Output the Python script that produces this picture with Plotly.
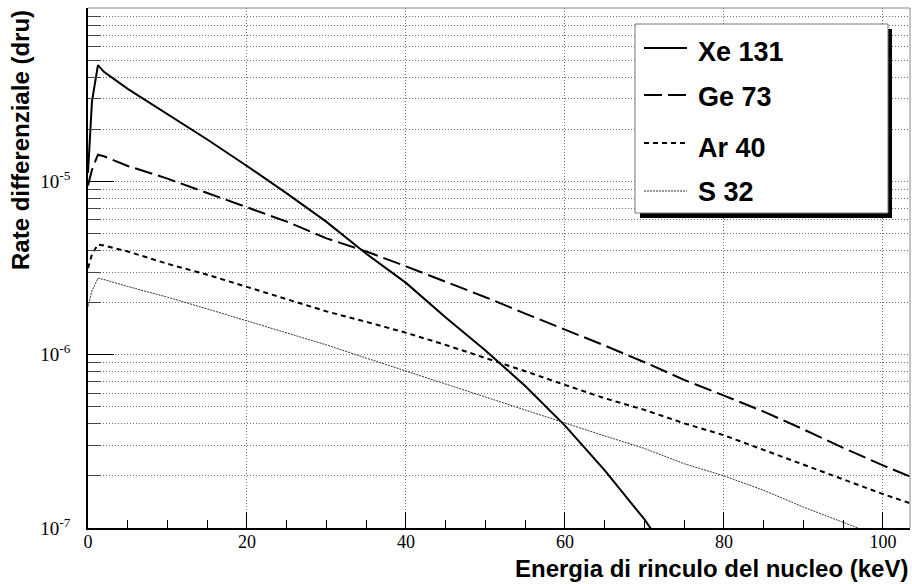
import plotly.graph_objects as go

# Energia di rinculo (keV) e rate differenziale (dru) per i quattro bersagli
energia = [0, 0.5, 1.25, 2, 5, 10, 15, 20, 25, 30, 35, 40, 45, 50, 55, 60,
           65, 70, 75, 80, 85, 90, 95, 100, 103.4]

rate_xe131 = [1.12e-5, 2.9e-5, 4.7e-5, 4.3e-5, 3.43e-5, 2.45e-5, 1.75e-5,
              1.23e-5, 8.55e-6, 5.85e-6, 3.83e-6, 2.60e-6, 1.64e-6, 1.06e-6,
              6.6e-7, 3.9e-7, 2.15e-7, 1.12e-7, 5.2e-8]
rate_ge73 = [9.5e-6, 1.17e-5, 1.43e-5, 1.40e-5, 1.23e-5, 1.04e-5, 8.59e-6,
             7.10e-6, 5.87e-6, 4.70e-6, 3.95e-6, 3.24e-6, 2.65e-6, 2.15e-6,
             1.73e-6, 1.40e-6, 1.13e-6, 9.06e-7, 7.16e-7, 5.81e-7, 4.70e-7,
             3.71e-7, 2.90e-7, 2.30e-7, 1.98e-7]
rate_ar40 = [3.16e-6, 3.8e-6, 4.33e-6, 4.27e-6, 3.95e-6, 3.35e-6, 2.90e-6,
             2.47e-6, 2.10e-6, 1.78e-6, 1.55e-6, 1.34e-6, 1.14e-6, 9.6e-7,
             8.04e-7, 6.7e-7, 5.61e-7, 4.81e-7, 4.02e-7, 3.43e-7, 2.82e-7,
             2.30e-7, 1.89e-7, 1.57e-7, 1.39e-7]
rate_s32 = [1.9e-6, 2.34e-6, 2.77e-6, 2.72e-6, 2.48e-6, 2.15e-6, 1.84e-6,
            1.57e-6, 1.35e-6, 1.14e-6, 9.57e-7, 8.05e-7, 6.76e-7, 5.69e-7,
            4.79e-7, 4.03e-7, 3.40e-7, 2.88e-7, 2.35e-7, 2.0e-7, 1.65e-7,
            1.32e-7, 1.08e-7, 8.8e-8]

nomi = ["Xe 131", "Ge 73", "Ar 40", "S 32"]
serie = [rate_xe131, rate_ge73, rate_ar40, rate_s32]
stili = [
    dict(color="black", width=2, dash="solid"),
    dict(color="black", width=2, dash="18px,6px"),
    dict(color="black", width=2, dash="5px,4px"),
    dict(color="#333333", width=1, dash="2px,1px"),
]

x_ticks = [0, 20, 40, 60, 80, 100]
y_ticks = [1e-7, 1e-6, 1e-5]
y_ticktext = ["10<sup>-7</sup>", "10<sup>-6</sup>", "10<sup>-5</sup>"]
y_minor = [k * 10.0 ** e for e in (-7, -6, -5) for k in range(2, 10)]

W, H = 912, 584
ML, MR, MT, MB = 88, 2, 8, 56
PW, PH = W - ML - MR, H - MT - MB


def fx(px):
    return (px - ML) / PW


def fy(py):
    return (H - MB - py) / PH


fig = go.Figure()
for nome, valori, stile in zip(nomi, serie, stili):
    fig.add_trace(go.Scatter(
        x=energia[:len(valori)], y=valori, mode="lines", name=nome,
        line=stile, showlegend=False,
    ))

grid = dict(gridcolor="#6e6e6e", griddash="1px,2px", gridwidth=1)

fig.update_layout(
    width=W, height=H,
    margin=dict(l=ML, r=MR, t=MT, b=MB, pad=0),
    paper_bgcolor="white", plot_bgcolor="white",
    xaxis=dict(
        range=[0, 103.4], showline=True, linecolor="black", linewidth=1.5,
        ticks="inside", ticklen=16, tickwidth=1, tickcolor="black",
        tickmode="array", tickvals=x_ticks, showgrid=True, zeroline=False,
        ticklabelstandoff=-3,
        tickfont=dict(family="Liberation Serif", size=18, color="black"),
        minor=dict(dtick=5, tick0=0, ticks="inside", ticklen=8,
                   tickcolor="black", tickwidth=1, showgrid=False),
        **grid,
    ),
    yaxis=dict(
        type="log", range=[-7, -3.998], showline=True, linecolor="black",
        linewidth=1.5, ticks="inside", ticklen=26, tickwidth=1,
        tickcolor="black", tickmode="array", tickvals=y_ticks,
        ticktext=y_ticktext, showgrid=True, zeroline=False,
        ticklabelstandoff=12,
        tickfont=dict(family="Liberation Serif", size=19, color="black"),
        minor=dict(tickmode="array", tickvals=y_minor, ticks="inside",
                   ticklen=13, tickcolor="#444444", tickwidth=1,
                   showgrid=True, **grid),
        **grid,
    ),
)

shapes = [
    # cornice superiore e destra
    dict(type="line", xref="paper", yref="paper", x0=0, x1=1, y0=1, y1=1,
         line=dict(color="#888888", width=1)),
    dict(type="line", xref="paper", yref="paper", x0=1, x1=1, y0=0, y1=1,
         line=dict(color="#888888", width=1)),
    # riquadro della legenda con ombra
    dict(type="rect", xref="paper", yref="paper",
         x0=fx(640), x1=fx(892), y0=fy(218), y1=fy(29),
         fillcolor="black", line=dict(width=0)),
    dict(type="rect", xref="paper", yref="paper",
         x0=fx(635), x1=fx(888), y0=fy(213), y1=fy(24),
         fillcolor="white", line=dict(color="#777777", width=1)),
]

annotations = []
leg_line_y = [48, 95, 143, 191]
leg_text_y = [52, 97, 148, 192]
for nome, stile, yl, yt in zip(nomi, stili, leg_line_y, leg_text_y):
    shapes.append(dict(type="line", xref="paper", yref="paper",
                       x0=fx(644), x1=fx(687), y0=fy(yl), y1=fy(yl),
                       line=stile))
    annotations.append(dict(
        text=f"<b>{nome}</b>", xref="paper", yref="paper",
        x=fx(696), y=fy(yt), xanchor="left", yanchor="middle",
        showarrow=False,
        font=dict(family="Liberation Sans", size=27, color="black"),
    ))

annotations.append(dict(
    text="<b>Energia di rinculo del nucleo (keV)</b>", xref="paper",
    yref="paper", x=fx(910), y=fy(568), xanchor="right", yanchor="middle",
    showarrow=False,
    font=dict(family="Liberation Sans", size=24, color="black"),
))
annotations.append(dict(
    text="<b>Rate differenziale (dru)</b>", xref="paper", yref="paper",
    x=fx(20), y=fy(8), xanchor="center", yanchor="top", textangle=-90,
    showarrow=False,
    font=dict(family="Liberation Sans", size=24, color="black"),
))

fig.update_layout(shapes=shapes, annotations=annotations)
fig.write_html("out.html")
